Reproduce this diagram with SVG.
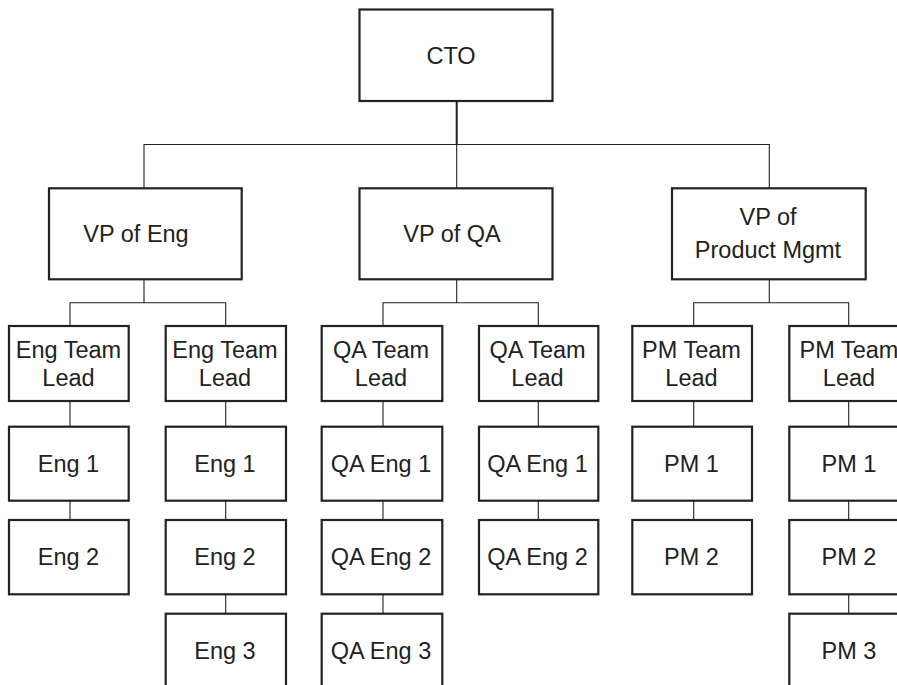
<svg xmlns="http://www.w3.org/2000/svg" width="897" height="685" viewBox="0 0 897 685">
<style>
.box{fill:#fff;stroke:#222;stroke-width:2.2}
.t{font-family:"Liberation Sans",Arial,Helvetica,sans-serif;font-size:23.5px;fill:#222;text-anchor:middle}
.c{fill:none;stroke:#222;stroke-width:1.1}
</style>
<rect width="897" height="685" fill="#fff"/>
<g id="connectors">
<path class="c" d="M456.7,101 V144.5" style="stroke-width:2"/>
<path class="c" d="M144,188 V144.5 H769.3 V188 M456.7,144.5 V188"/>
<path class="c" d="M144,279.5 V302.7 M70,326 V302.7 H225.7 V326"/>
<path class="c" d="M456.7,279.5 V302.7 M383,326 V302.7 H538.3 V326"/>
<path class="c" d="M769.3,279.5 V302.7 M693.7,326 V302.7 H848.7 V326"/>
<path class="c" d="M70,401 V426.7 M70,500.7 V520"/>
<path class="c" d="M225.7,401 V426.7 M225.7,500.7 V520 M225.7,594.3 V613.7"/>
<path class="c" d="M383,401 V426.7 M383,500.7 V520 M383,594.3 V613.7"/>
<path class="c" d="M538.3,401 V426.7 M538.3,500.7 V520"/>
<path class="c" d="M693.7,401 V426.7 M693.7,500.7 V520"/>
<path class="c" d="M848.7,401 V426.7 M848.7,500.7 V520 M848.7,594.3 V613.7"/>
</g>
<g id="cto"><rect class="box" x="359.5" y="9.5" width="193" height="91.5"/><text class="t" x="451" y="63.8">CTO</text></g>
<g id="vp-eng"><rect class="box" x="49" y="188.3" width="192.7" height="91"/><text class="t" x="136" y="241.8">VP of Eng</text></g>
<g id="vp-qa"><rect class="box" x="359.5" y="188.3" width="193" height="91"/><text class="t" x="452" y="241.8">VP of QA</text></g>
<g id="vp-pm"><rect class="box" x="672" y="188.3" width="193.7" height="91"/><text class="t" x="768" y="225">VP of</text><text class="t" x="768" y="258.3">Product Mgmt</text></g>

<g id="eng-lead-1"><rect class="box" x="9" y="326" width="119.7" height="75"/><text class="t" x="68.5" y="357.7">Eng Team</text><text class="t" x="68.5" y="386">Lead</text></g>
<g id="eng-lead-2"><rect class="box" x="165.7" y="326" width="120.3" height="75"/><text class="t" x="225" y="357.7">Eng Team</text><text class="t" x="225" y="386">Lead</text></g>
<g id="qa-lead-1"><rect class="box" x="321.7" y="326" width="120.6" height="75"/><text class="t" x="381" y="357.7">QA Team</text><text class="t" x="381" y="386">Lead</text></g>
<g id="qa-lead-2"><rect class="box" x="479" y="326" width="119.3" height="75"/><text class="t" x="537.5" y="357.7">QA Team</text><text class="t" x="537.5" y="386">Lead</text></g>
<g id="pm-lead-1"><rect class="box" x="632.3" y="326" width="119.7" height="75"/><text class="t" x="691.5" y="357.7">PM Team</text><text class="t" x="691.5" y="386">Lead</text></g>
<g id="pm-lead-2"><rect class="box" x="789.3" y="326" width="120" height="75"/><text class="t" x="849" y="357.7">PM Team</text><text class="t" x="849" y="386">Lead</text></g>

<g id="eng1-1"><rect class="box" x="9" y="426.7" width="119.7" height="74"/><text class="t" x="68.5" y="471.7">Eng 1</text></g>
<g id="eng1-2"><rect class="box" x="9" y="520" width="119.7" height="74.3"/><text class="t" x="68.5" y="565">Eng 2</text></g>

<g id="eng2-1"><rect class="box" x="165.7" y="426.7" width="120.3" height="74"/><text class="t" x="225" y="471.7">Eng 1</text></g>
<g id="eng2-2"><rect class="box" x="165.7" y="520" width="120.3" height="74.3"/><text class="t" x="225" y="565">Eng 2</text></g>
<g id="eng2-3"><rect class="box" x="165.7" y="613.7" width="120.3" height="76"/><text class="t" x="225" y="658.5">Eng 3</text></g>

<g id="qa1-1"><rect class="box" x="321.7" y="426.7" width="120.6" height="74"/><text class="t" x="381" y="471.7">QA Eng 1</text></g>
<g id="qa1-2"><rect class="box" x="321.7" y="520" width="120.6" height="74.3"/><text class="t" x="381" y="565">QA Eng 2</text></g>
<g id="qa1-3"><rect class="box" x="321.7" y="613.7" width="120.6" height="76"/><text class="t" x="381" y="658.5">QA Eng 3</text></g>

<g id="qa2-1"><rect class="box" x="479" y="426.7" width="119.3" height="74"/><text class="t" x="537.5" y="471.7">QA Eng 1</text></g>
<g id="qa2-2"><rect class="box" x="479" y="520" width="119.3" height="74.3"/><text class="t" x="537.5" y="565">QA Eng 2</text></g>

<g id="pm1-1"><rect class="box" x="632.3" y="426.7" width="119.7" height="74"/><text class="t" x="691.5" y="471.7">PM 1</text></g>
<g id="pm1-2"><rect class="box" x="632.3" y="520" width="119.7" height="74.3"/><text class="t" x="691.5" y="565">PM 2</text></g>

<g id="pm2-1"><rect class="box" x="789.3" y="426.7" width="120" height="74"/><text class="t" x="849" y="471.7">PM 1</text></g>
<g id="pm2-2"><rect class="box" x="789.3" y="520" width="120" height="74.3"/><text class="t" x="849" y="565">PM 2</text></g>
<g id="pm2-3"><rect class="box" x="789.3" y="613.7" width="120" height="76"/><text class="t" x="849" y="658.5">PM 3</text></g>
</svg>
